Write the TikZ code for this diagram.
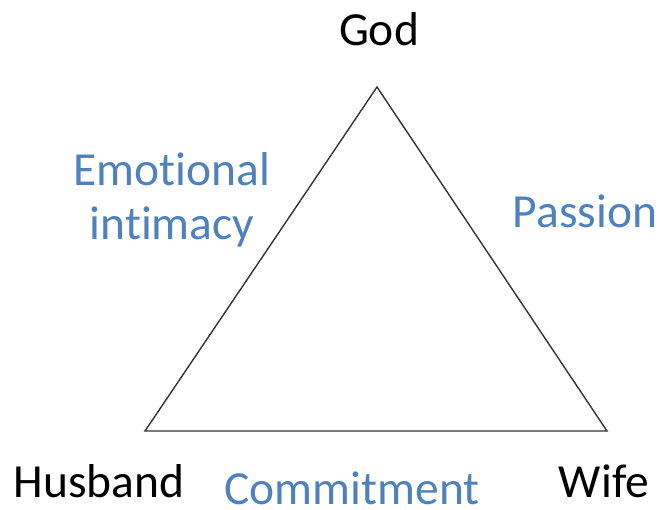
\documentclass[tikz,border=0pt]{standalone}
\usepackage{fontspec}
\setmainfont[RawFeature={-liga;-clig;-calt;-dlig}]{Carlito}
\usepackage{tikz}
\usetikzlibrary{calc}

\definecolor{labelblue}{HTML}{4F81BD}

\begin{document}
\begin{tikzpicture}[x = 1pt, y = -1pt,
		label/.style = {inner sep = 0pt, anchor = base, font = \fontsize{47.5}{58}\selectfont},
		side/.style = {label, text = labelblue, align = center}]
				\useasboundingbox (0, 0) rectangle (659, 510);

				\coordinate[](top) at (377, 87);
				\coordinate[](left) at (145, 431);
				\coordinate[](right) at (607, 431);

				\draw[line width = 1.4pt, black!80] (top)--(left)--(right)--cycle;

				\node[label](god) at (379, 46) {God};
				\node[label](husband) at (99, 497) {Husband};
				\node[label](wife) at (604, 497) {Wife};

				\node[side](emotional) at (172, 186) {Emotional};
				\node[side](intimacy) at (172, 240) {intimacy};
				\node[side](passion) at (585, 228) {Passion};
				\node[side](commitment) at (352, 504) {Commitment};
			\end{tikzpicture}
\end{document}
